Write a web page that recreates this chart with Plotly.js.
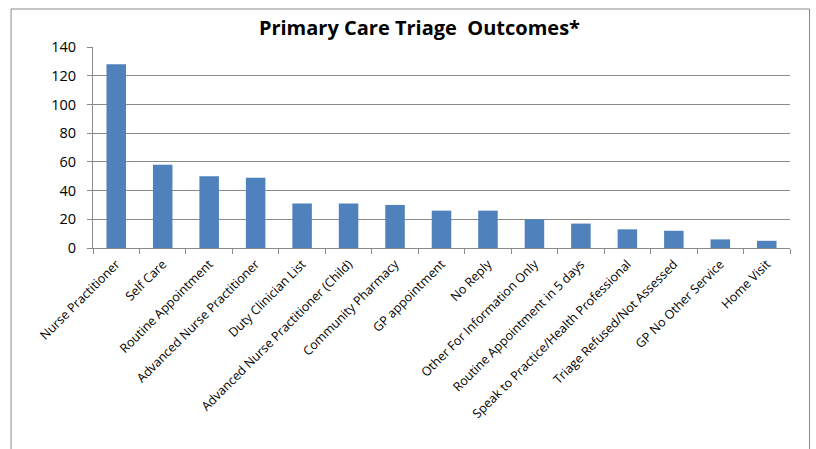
<!DOCTYPE html>
<html>
<head>
<meta charset="utf-8">
<script src="https://cdn.plot.ly/plotly-3.0.1.min.js"></script>
<style>
  html, body { margin: 0; padding: 0; background: #fff; }
  #chart { width: 816px; height: 449px; }
</style>
</head>
<body>
<div id="chart"></div>
<script>
// Triage outcome categories and their counts
const outcomes = [
  "Nurse Practitioner",
  "Self Care",
  "Routine Appointment",
  "Advanced Nurse Practitioner",
  "Duty Clinician List",
  "Advanced Nurse Practitioner (Child)",
  "Community Pharmacy",
  "GP appointment",
  "No Reply",
  "Other For Information Only",
  "Routine Appointment in 5 days",
  "Speak to Practice/Health Professional",
  "Triage Refused/Not Assessed",
  "GP No Other Service",
  "Home Visit"
];
const counts = [128, 58, 50, 49, 31, 31, 30, 26, 26, 20, 17, 13, 12, 6, 5];

const yTicks = [0, 20, 40, 60, 80, 100, 120, 140];

const gridGrey = "#8a8a8a";
const font = "'Open Sans', 'Liberation Sans', sans-serif";

const trace = {
  type: "bar",
  x: outcomes,
  y: counts,
  marker: { color: "#4F81BD", line: { width: 0 } },
  hoverinfo: "x+y"
};

const layout = {
  width: 816,
  height: 449,
  margin: { l: 93, r: 26, t: 47, b: 201 },
  paper_bgcolor: "#ffffff",
  plot_bgcolor: "#ffffff",
  showlegend: false,
  bargap: 0.58,
  font: { family: font, color: "#000" },
  title: {
    text: "<b>Primary Care Triage \u00a0Outcomes*</b>",
    font: { family: font, size: 20, color: "#000" },
    x: 0.514, xref: "container", xanchor: "center",
    y: 0.937, yref: "container", yanchor: "middle"
  },
  xaxis: {
    type: "category",
    tickangle: -45,
    tickfont: { family: font, size: 12.5, color: "#000" },
    ticks: "outside",
    tickson: "boundaries",
    ticklen: 5,
    tickcolor: gridGrey,
    ticklabelstandoff: 3,
    showline: true,
    linecolor: gridGrey,
    linewidth: 1,
    showgrid: false,
    automargin: false
  },
  yaxis: {
    range: [0, 140],
    tickvals: yTicks,
    tickfont: { family: font, size: 14.5, color: "#000" },
    ticks: "outside",
    ticklen: 5,
    tickcolor: gridGrey,
    ticklabelstandoff: 8,
    showline: true,
    linecolor: gridGrey,
    linewidth: 1,
    showgrid: true,
    gridcolor: gridGrey,
    gridwidth: 1,
    zeroline: false,
    automargin: false
  },
  shapes: [
    {
      // outer chart frame
      type: "rect", xref: "paper", yref: "paper",
      x0: -0.1176, x1: 1.028, y0: -1.06, y1: 1.189,
      line: { color: gridGrey, width: 1 },
      fillcolor: "rgba(0,0,0,0)",
      layer: "below"
    }
  ]
};

Plotly.newPlot("chart", [trace], layout, { displayModeBar: false, staticPlot: true });
</script>
</body>
</html>
